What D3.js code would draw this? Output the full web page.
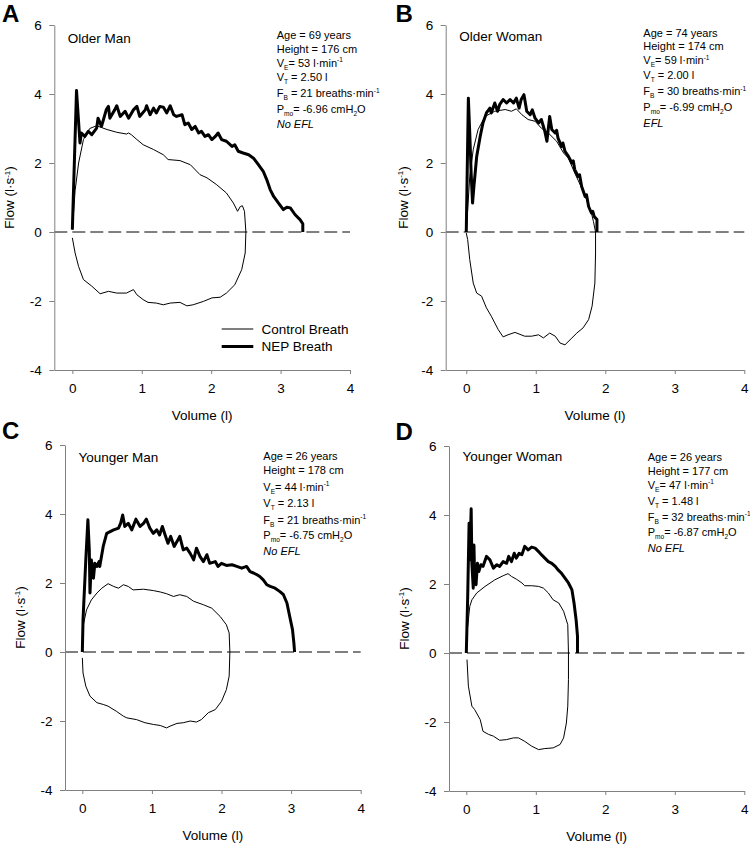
<!DOCTYPE html>
<html><head><meta charset="utf-8">
<script src="https://cdn.jsdelivr.net/npm/d3@7"></script>
<style>
body{margin:0;background:#fff}
svg{display:block;font-family:"Liberation Sans",Arial,sans-serif}
</style>
</head><body>
<svg id="chart" width="750" height="845"></svg>
<script>
// ---------------- DATA ----------------
const panelLetters = ["A", "B", "C", "D"];
const panelTitles = ["Older Man", "Older Woman", "Younger Man", "Younger Woman"];
const xTicks = [0, 1, 2, 3, 4];
const yTicks = [-4, -2, 0, 2, 4, 6];
const xAxisTitle = "Volume (l)";
const legendLabels = ["Control Breath", "NEP Breath"];

const ages = [69, 74, 26, 26];
const heights = [176, 174, 178, 177];
const ventilation = [53, 59, 44, 47];
const tidalVolume = ["2.50", "2.00", "2.13", "1.48"];
const breathFreq = [21, 30, 21, 32];
const mouthPressure = ["-6.96", "-6.99", "-6.75", "-6.87"];
const eflStatus = ["No EFL", "EFL", "No EFL", "No EFL"];

// [volume (l), flow (l/s)]
const olderManControl = [[0,0.07],[0.04,1.2],[0.09,2.0],[0.16,2.68],[0.25,3.0],[0.35,3.08],[0.5,2.97],[0.64,2.89],[0.78,2.84],[0.81,2.87],[0.85,2.82],[0.93,2.68],[1.02,2.53],[1.17,2.39],[1.31,2.24],[1.38,2.1],[1.55,2.07],[1.70,1.95],[1.84,1.66],[1.94,1.57],[2.08,1.37],[2.22,1.13],[2.32,0.84],[2.38,0.6],[2.42,0.74],[2.45,0.76],[2.48,0.6],[2.50,0],
  [2.49,-0.61],[2.44,-1.09],[2.34,-1.53],[2.22,-1.77],[2.13,-1.89],[2.01,-1.91],[1.89,-2.01],[1.74,-2.11],[1.65,-2.14],[1.55,-2.04],[1.41,-2.06],[1.31,-2.11],[1.21,-2.06],[1.09,-2.04],[1.02,-1.96],[0.93,-1.82],[0.88,-1.67],[0.78,-1.77],[0.64,-1.77],[0.52,-1.72],[0.40,-1.79],[0.28,-1.57],[0.16,-1.38],[0.09,-1.0],[0.04,-0.61],[0.0,-0.17]];
const olderManNEP = [[0,0.07],[0.06,4.1],[0.11,2.58],[0.13,2.87],[0.18,2.77],[0.23,2.92],[0.28,2.82],[0.35,3.01],[0.37,3.3],[0.42,3.06],[0.49,3.55],[0.52,3.64],[0.54,3.3],[0.61,3.54],[0.64,3.66],[0.69,3.35],[0.76,3.5],[0.81,3.3],[0.88,3.54],[0.93,3.64],[0.97,3.35],[1.05,3.54],[1.07,3.66],[1.12,3.4],[1.17,3.59],[1.21,3.45],[1.26,3.64],[1.31,3.62],[1.36,3.45],[1.41,3.66],[1.46,3.4],[1.5,3.35],[1.58,3.4],[1.62,3.11],[1.67,3.16],[1.72,2.97],[1.77,3.06],[1.82,2.87],[1.86,2.92],[1.91,2.77],[1.96,2.82],[2.01,2.68],[2.06,2.77],[2.1,2.87],[2.15,2.68],[2.22,2.63],[2.3,2.48],[2.34,2.53],[2.39,2.34],[2.46,2.29],[2.54,2.24],[2.61,2.14],[2.68,1.95],[2.75,1.76],[2.8,1.52],[2.85,1.23],[2.9,1.03],[2.97,0.84],[3.04,0.65],[3.09,0.72],[3.14,0.7],[3.21,0.5],[3.28,0.36],[3.32,0.24],[3.32,0]];

const olderWomanControl = [[0,0],[0.05,1.6],[0.1,2.39],[0.17,2.97],[0.27,3.35],[0.41,3.5],[0.56,3.55],[0.65,3.5],[0.72,3.57],[0.8,3.4],[0.89,3.26],[0.99,3.21],[1.08,3.01],[1.18,2.87],[1.3,2.63],[1.4,2.29],[1.47,2.14],[1.56,1.71],[1.66,1.28],[1.73,0.94],[1.8,0.55],[1.83,0.3],[1.86,0],
  [1.86,-0.61],[1.85,-1.48],[1.81,-2.15],[1.76,-2.54],[1.68,-2.78],[1.59,-2.93],[1.52,-3.07],[1.42,-3.27],[1.35,-3.22],[1.28,-3.02],[1.2,-2.93],[1.11,-3.07],[1.04,-2.98],[0.94,-3.02],[0.84,-3.02],[0.7,-2.91],[0.6,-2.98],[0.53,-3.04],[0.46,-2.83],[0.36,-2.44],[0.29,-2.2],[0.22,-1.86],[0.15,-1.77],[0.1,-1.48],[0.05,-0.8],[0.02,-0.22],[0,-0.03]];
const olderWomanNEP = [[0,0],[0.03,3.88],[0.05,2.87],[0.07,1.71],[0.09,0.84],[0.11,1.32],[0.15,2.19],[0.2,2.77],[0.24,3.16],[0.29,3.45],[0.34,3.59],[0.36,3.45],[0.41,3.74],[0.45,3.5],[0.48,3.69],[0.53,3.84],[0.58,3.74],[0.63,3.84],[0.68,3.74],[0.72,3.88],[0.76,3.59],[0.79,3.84],[0.83,3.98],[0.87,3.5],[0.92,3.4],[0.95,3.54],[0.99,3.3],[1.04,3.16],[1.08,3.26],[1.13,2.92],[1.16,2.63],[1.2,3.35],[1.23,2.97],[1.28,2.87],[1.3,2.95],[1.32,2.72],[1.37,2.48],[1.39,2.58],[1.42,2.34],[1.47,2.19],[1.52,2.0],[1.54,2.06],[1.56,1.81],[1.61,1.61],[1.63,1.66],[1.66,1.32],[1.71,1.03],[1.73,1.08],[1.76,0.74],[1.8,0.55],[1.82,0.6],[1.84,0.45],[1.88,0.36],[1.88,0]];

const youngerManControl = [[0,0],[0.01,0.74],[0.06,1.22],[0.13,1.51],[0.21,1.71],[0.28,1.85],[0.37,1.98],[0.45,1.9],[0.52,1.85],[0.59,1.95],[0.66,1.9],[0.73,1.8],[0.88,1.82],[1.02,1.78],[1.12,1.74],[1.21,1.69],[1.31,1.61],[1.4,1.66],[1.5,1.61],[1.6,1.47],[1.74,1.37],[1.86,1.27],[1.98,1.03],[2.07,0.79],[2.11,0.55],[2.12,0],
  [2.11,-0.7],[2.07,-1.09],[2.0,-1.43],[1.91,-1.67],[1.81,-1.76],[1.71,-1.96],[1.64,-2.03],[1.55,-2.0],[1.45,-2.05],[1.36,-2.07],[1.26,-2.15],[1.21,-2.2],[1.12,-2.13],[1.02,-2.1],[0.9,-2.05],[0.78,-1.96],[0.64,-1.91],[0.59,-1.86],[0.49,-1.72],[0.37,-1.57],[0.3,-1.52],[0.21,-1.47],[0.11,-1.28],[0.05,-0.99],[0.01,-0.61],[0,-0.17]];
const youngerManNEP = [[0,0],[0.01,0.93],[0.05,2.67],[0.08,3.83],[0.1,2.96],[0.11,1.71],[0.13,2.67],[0.16,2.14],[0.18,2.57],[0.21,2.48],[0.24,2.62],[0.25,2.48],[0.3,3.06],[0.35,3.44],[0.45,3.54],[0.52,3.59],[0.55,3.73],[0.58,3.97],[0.61,3.64],[0.66,3.73],[0.71,3.54],[0.77,3.85],[0.83,3.64],[0.88,3.73],[0.92,3.85],[0.97,3.59],[1.02,3.44],[1.07,3.54],[1.11,3.39],[1.15,3.64],[1.19,3.39],[1.23,3.15],[1.27,3.35],[1.32,3.06],[1.36,3.2],[1.4,3.35],[1.45,2.96],[1.5,3.01],[1.55,2.86],[1.6,2.67],[1.64,3.01],[1.69,2.77],[1.74,2.62],[1.79,2.82],[1.83,2.57],[1.91,2.62],[1.95,2.48],[2.0,2.57],[2.07,2.51],[2.15,2.53],[2.22,2.48],[2.29,2.43],[2.36,2.48],[2.41,2.33],[2.46,2.29],[2.51,2.24],[2.55,2.19],[2.6,2.09],[2.65,1.95],[2.7,1.9],[2.77,1.85],[2.84,1.75],[2.89,1.66],[2.94,1.42],[2.98,1.03],[3.02,0.65],[3.04,0.26],[3.05,0]];

const youngerWomanControl = [[0,0],[0.01,0.58],[0.05,1.35],[0.08,1.54],[0.15,1.74],[0.27,1.93],[0.41,2.12],[0.53,2.24],[0.6,2.3],[0.65,2.22],[0.72,2.14],[0.8,2.03],[0.84,1.95],[0.94,1.95],[1.04,1.93],[1.11,1.88],[1.18,1.74],[1.25,1.54],[1.33,1.45],[1.4,1.21],[1.46,0.82],[1.47,0],
  [1.47,-0.77],[1.46,-1.54],[1.44,-2.03],[1.4,-2.46],[1.35,-2.65],[1.25,-2.75],[1.13,-2.77],[1.04,-2.8],[0.94,-2.7],[0.84,-2.56],[0.75,-2.46],[0.68,-2.46],[0.58,-2.51],[0.48,-2.53],[0.39,-2.41],[0.32,-2.36],[0.24,-2.27],[0.2,-1.93],[0.12,-1.64],[0.08,-1.54],[0.03,-0.96],[0.01,-0.19]];
const youngerWomanNEP = [[0,0],[0.02,1.64],[0.04,3.76],[0.05,2.7],[0.07,4.18],[0.08,2.6],[0.1,1.88],[0.11,3.13],[0.12,2.12],[0.14,1.98],[0.16,2.6],[0.18,2.36],[0.21,2.56],[0.24,2.51],[0.29,2.8],[0.34,2.7],[0.39,2.46],[0.44,2.56],[0.48,2.51],[0.53,2.65],[0.58,2.6],[0.61,2.8],[0.65,2.65],[0.69,2.89],[0.72,2.75],[0.76,2.89],[0.8,2.85],[0.84,3.09],[0.89,2.99],[0.94,3.07],[0.99,3.04],[1.04,2.94],[1.08,2.85],[1.13,2.75],[1.18,2.65],[1.23,2.6],[1.28,2.51],[1.32,2.41],[1.37,2.31],[1.42,2.17],[1.47,2.03],[1.52,1.83],[1.55,1.45],[1.58,0.96],[1.6,0.48],[1.6,0]];

const controlSeries = [olderManControl, olderWomanControl, youngerManControl, youngerWomanControl];
const nepSeries = [olderManNEP, olderWomanNEP, youngerManNEP, youngerWomanNEP];

// ---------------- LAYOUT ----------------
const layouts = [
  {left: 54.3, right: 350, top: 25, bottom: 370, xmin: -0.26, letterX: 2, letterY: 22, titleY: 43, annX: 276.7, annY: [39, 52.5, 66.5, 81, 97, 112.5, 127.5], ylabX: 14},
  {left: 445.7, right: 744.3, top: 25, bottom: 370, xmin: -0.296, letterX: 395.5, letterY: 22, titleY: 41, annX: 643.3, annY: [36.5, 50, 64, 79, 95, 111, 127], ylabX: 407.5},
  {left: 65, right: 360.7, top: 445, bottom: 790, xmin: -0.249, letterX: 2, letterY: 439, titleY: 462, annX: 263.3, annY: [460, 474, 490.5, 506.5, 523.5, 539, 555], ylabX: 24.5},
  {left: 449, right: 744.3, top: 446, bottom: 791, xmin: -0.249, letterX: 395.5, letterY: 440, titleY: 460.5, annX: 647.7, annY: [461, 475, 488.5, 504.5, 520.5, 536, 552], ylabX: 408.5}
];

const svg = d3.select("#chart");
const FS = 13.5;
const AXIS_COLOR = "#808080";

function richText(g, xPos, yPos, parts, size) {
  const t = g.append("text").attr("x", xPos).attr("y", yPos).attr("font-size", size).attr("fill", "#000");
  let shift = 0;
  parts.forEach(p => {
    const s = t.append("tspan").text(p.t);
    let target = 0;
    if (p.k === "sub") { target = 3; s.attr("font-size", size * 0.6); }
    else if (p.k === "sup") { target = -4.5; s.attr("font-size", size * 0.6); }
    if (p.style) s.attr("font-style", p.style);
    if (target !== shift) { s.attr("dy", target - shift); shift = target; }
  });
  return t;
}

function drawPanel(i) {
  const L = layouts[i];
  const x = d3.scaleLinear().domain([L.xmin, 4]).range([L.left, L.right]);
  const y = d3.scaleLinear().domain([-4, 6]).range([L.bottom, L.top]);
  const g = svg.append("g");

  // zero dashed line
  g.append("line")
    .attr("x1", L.left).attr("x2", x(4))
    .attr("y1", y(0)).attr("y2", y(0))
    .attr("stroke", "#000").attr("stroke-width", 1)
    .attr("stroke-dasharray", "13,5");

  const line = d3.line().x(d => x(d[0])).y(d => y(d[1]));
  g.append("path").datum(controlSeries[i]).attr("d", line)
    .attr("fill", "none").attr("stroke", "#000").attr("stroke-width", 1)
    .attr("stroke-linejoin", "round");
  g.append("path").datum(nepSeries[i]).attr("d", line)
    .attr("fill", "none").attr("stroke", "#000").attr("stroke-width", 3)
    .attr("stroke-linejoin", "round");

  // axes
  const ya = g.append("g").attr("transform", `translate(${L.left},0)`)
    .call(d3.axisLeft(y).tickValues(yTicks).tickSize(5).tickSizeOuter(0).tickPadding(7.5).tickFormat(d3.format("d")));
  const xa = g.append("g").attr("transform", `translate(0,${L.bottom})`)
    .call(d3.axisBottom(x).tickValues(xTicks).tickSize(4).tickSizeOuter(0).tickPadding(9.5).tickFormat(d3.format("d")));
  [ya, xa].forEach(a => {
    a.attr("font-family", null).attr("font-size", null);
    a.select(".domain").attr("stroke", AXIS_COLOR);
    a.selectAll(".tick line").attr("stroke", AXIS_COLOR);
    a.selectAll(".tick text").attr("font-size", FS).attr("fill", "#000");
  });
  ya.selectAll(".tick text").text(d => d < 0 ? "-" + Math.abs(d) : d);

  // axis titles
  g.append("text").attr("x", (L.left + L.right) / 2).attr("y", L.bottom + 49.5)
    .attr("text-anchor", "middle").attr("font-size", FS).text(xAxisTitle);
  const yl = richText(g, 0, 0, [{t: "Flow (l·s"}, {t: "-1", k: "sup"}, {t: ")"}], FS);
  yl.attr("transform", `translate(${L.ylabX},${(L.top + L.bottom) / 2}) rotate(-90)`).attr("text-anchor", "middle");

  // panel letter + title
  g.append("text").attr("x", L.letterX).attr("y", L.letterY)
    .attr("font-size", 24).attr("font-weight", "bold").text(panelLetters[i]);
  g.append("text").attr("x", L.left + 13.5).attr("y", L.titleY)
    .attr("font-size", FS).text(panelTitles[i]);

  // annotations
  const A = 11;
  const lines = [
    [{t: `Age = ${ages[i]} years`}],
    [{t: `Height = ${heights[i]} cm`}],
    [{t: "V"}, {t: "E", k: "sub"}, {t: `= ${ventilation[i]} l·min`}, {t: "-1", k: "sup"}],
    [{t: "V"}, {t: "T", k: "sub"}, {t: ` = ${tidalVolume[i]} l`}],
    [{t: "F"}, {t: "B", k: "sub"}, {t: ` = ${breathFreq[i]} breaths·min`}, {t: "-1", k: "sup"}],
    [{t: "P"}, {t: "mo", k: "sub"}, {t: `= ${mouthPressure[i]} cmH`}, {t: "2", k: "sub"}, {t: "O"}],
    [{t: eflStatus[i], style: "italic"}]
  ];
  lines.forEach((parts, j) => richText(g, L.annX, L.annY[j], parts, A));

  if (i === 0) {
    const lg = g.append("g");
    [0, 1].forEach(k => {
      const ly = [329, 346.5][k];
      lg.append("line").attr("x1", 221.7).attr("x2", 253.3).attr("y1", ly).attr("y2", ly)
        .attr("stroke", "#000").attr("stroke-width", k === 0 ? 1 : 3);
      lg.append("text").attr("x", 261.5).attr("y", ly + 4.8).attr("font-size", FS).text(legendLabels[k]);
    });
  }
}

[0, 1, 2, 3].forEach(drawPanel);
</script>
</body></html>
